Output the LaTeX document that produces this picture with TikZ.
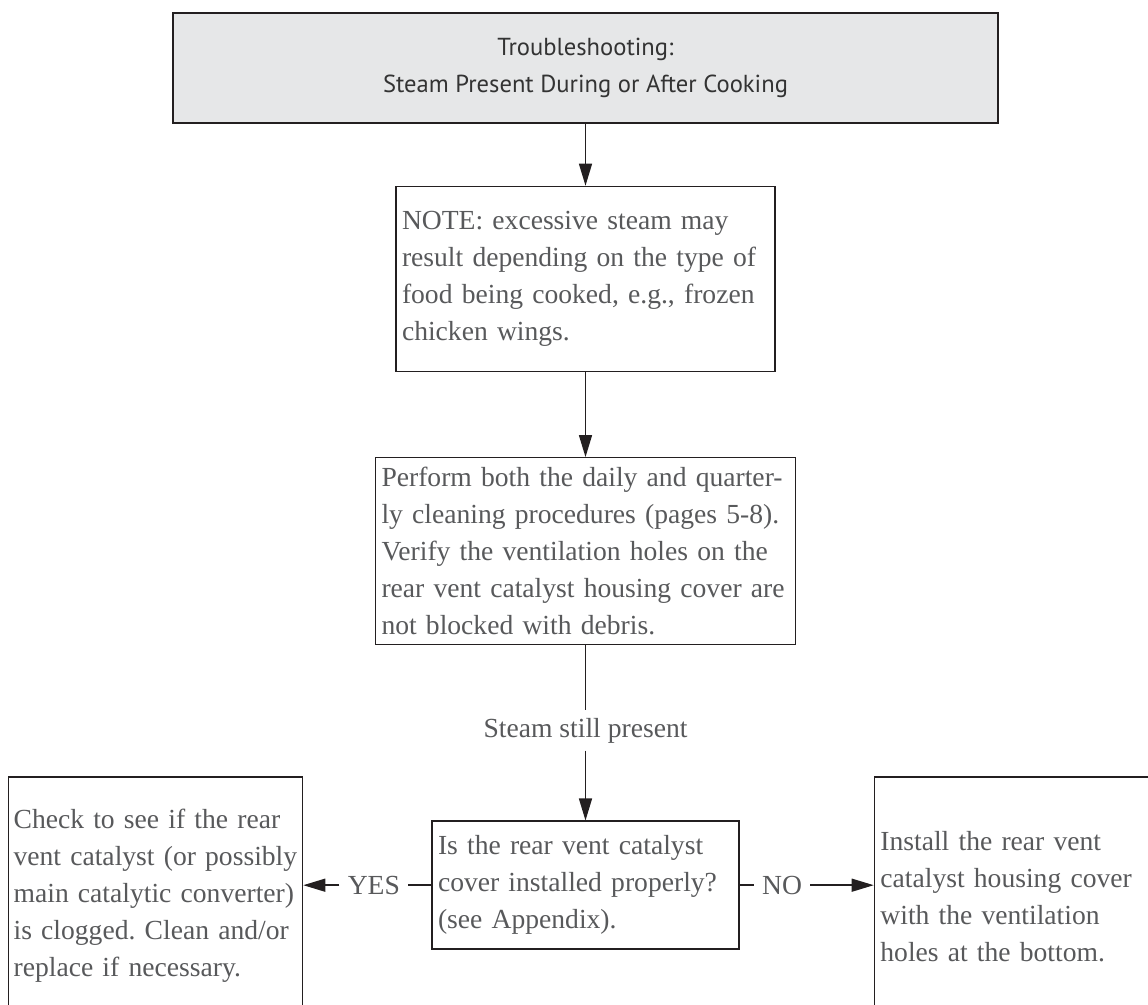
\documentclass[tikz,border=0pt]{standalone}
\usepackage{fontspec}
\setmainfont{Liberation Serif}
\newfontfamily\titlefont{PT Sans}
\usetikzlibrary{arrows.meta,positioning}
\definecolor{boxgray}{RGB}{230,231,232}
\definecolor{inkgray}{RGB}{88,89,91}
\definecolor{linegray}{RGB}{35,31,32}
\frenchspacing

\begin{document}
\begin{tikzpicture}[
    node distance=30pt,
    box/.style={draw=linegray,line width=0.7pt,text=inkgray,align=left,inner xsep=3pt,inner ysep=0pt,font=\fontsize{13.8pt}{18.5pt}\selectfont},
    titlebox/.style={draw=linegray,line width=0.7pt,fill=boxgray,minimum width=412.5pt,minimum height=55pt,align=center,text=black!80,font=\titlefont\fontsize{12.3pt}{18.5pt}\selectfont},
    lbl/.style={text=inkgray,inner xsep=4pt,inner ysep=3.6pt,font=\fontsize{13.8pt}{18.5pt}\selectfont},
    line/.style={linegray,line width=0.7pt},
    arr/.style={-{Triangle[length=11pt,width=6.5pt]},linegray,line width=0.7pt}
]
\useasboundingbox (0,0) rectangle (574pt,-502.5pt);
\clip (0,0) rectangle (574pt,-502.5pt);
\node[titlebox] (title) at (292.75pt,-34pt) {Troubleshooting:\\Steam Present During or After Cooking};
\node[box,below=31pt of title,text width=183.5pt,minimum height=92.5pt] (note)
    {NOTE: excessive steam may\\result depending on the type of\\food being cooked, e.g., frozen\\chicken wings.};
\node[box,below=42.5pt of note,text width=204pt,minimum height=93.5pt] (perform)
    {Perform both the daily and quarter-\\ly cleaning procedures (pages 5-8).\\Verify the ventilation holes on the\\rear vent catalyst housing cover are\\not blocked with debris.};
\node[lbl,below=32.5pt of perform] (still) {Steam still present};
\node[box,below=87.5pt of perform,text width=147.5pt,minimum height=64pt] (question)
    {Is the rear vent catalyst\\cover installed properly?\\(see Appendix).};
\node[box,left=64pt of question,yshift=-5.5pt,inner xsep=2.5pt,text width=142pt,minimum height=119pt] (check)
    {Check to see if the rear\\\mbox{vent catalyst (or possibly}\\main catalytic converter)\\is clogged. Clean and/or\\replace if necessary.};
\node[box,right=67pt of question,yshift=-5.5pt,text width=141pt,minimum height=119pt] (install)
    {Install the rear vent\\catalyst housing cover\\with the ventilation\\holes at the bottom.};
\node[lbl,left=11.5pt of question] (yes) {YES};
\node[lbl,right=7pt of question] (no) {NO};

\draw[arr] (title) -- (note);
\draw[arr] (note) -- (perform);
\draw[line] (perform) -- (still);
\draw[arr] (still) -- (question);
\draw[line] (question) -- (yes);
\draw[arr] (yes) -- (yes -| check.east);
\draw[line] (question) -- (no);
\draw[arr] (no) -- (no -| install.west);
\end{tikzpicture}
\end{document}
